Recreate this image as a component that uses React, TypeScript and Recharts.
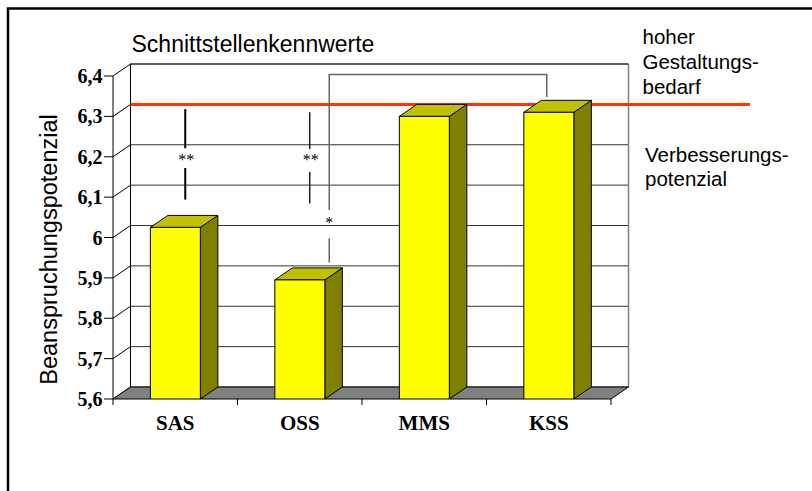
import React from 'react';
import * as RC from 'recharts';

const { BarChart, Bar, XAxis, YAxis, Customized } = RC as any;
const RA: any = RC;

// ---- data ----
const categories = ['SAS', 'OSS', 'MMS', 'KSS'];
const values = [6.025, 5.895, 6.3, 6.31];
const yTicks = [5.6, 5.7, 5.8, 5.9, 6.0, 6.1, 6.2, 6.3, 6.4];
const yDomain = [5.6, 6.4];
const thresholdValue = 6.3; // red line "hoher Gestaltungsbedarf"
const title = 'Schnittstellenkennwerte';
const yLabel = 'Beanspruchungspotenzial';
const upperNote = ['hoher', 'Gestaltungs-', 'bedarf'];
const lowerNote = ['Verbesserungs-', 'potenzial'];
// significance markers
const sigMarks = [
  { cat: 0, from: 6.318, to: 6.221, text: 6.197, from2: 6.172, to2: 6.094, label: '**', bold: true },
  { cat: 1, from: 6.31, to: 6.219, text: 6.197, from2: 6.162, to2: 6.084, label: '**', bold: false },
];
const bracket = { catA: 1, catB: 3, top: 6.404, rightEnd: 6.348, leftEnd: 6.068, text: 6.041, low1: 5.998, low2: 5.938, label: '*' };

const data = categories.map((c, i) => ({ name: c, value: values[i] }));

const W = 812;
const H = 491;
const DX = 17.5;
const DY = -12;
const SERIF = '"Liberation Serif", "Times New Roman", serif';
const SANS = '"Liberation Sans", Arial, sans-serif';

function usePlot() {
  const pa = RA.usePlotArea ? RA.usePlotArea() : undefined;
  if (pa && pa.width) return pa;
  return { x: 113, y: 76, width: 498, height: 323 };
}

function makeScales(p: any) {
  const py = (v: number) => p.y + p.height - ((v - yDomain[0]) / (yDomain[1] - yDomain[0])) * p.height;
  const step = p.width / categories.length;
  const cx = (i: number) => p.x + step * (i + 0.5);
  return { py, cx, step };
}

const Walls = () => {
  const p = usePlot();
  const { py, step } = makeScales(p);
  const L = p.x, R = p.x + p.width, T = p.y, B = p.y + p.height;
  const floor = `M${L},${B} L${R},${B} L${R + DX},${B + DY} L${L + DX},${B + DY} Z`;
  return (
    <g>
      <rect x={L + DX} y={T + DY} width={p.width} height={p.height} fill="#fff" />
      {yTicks.map((t) => (
        <g key={t}>
          <line x1={L} y1={py(t)} x2={L + DX} y2={py(t) + DY} stroke="#000" strokeWidth={1} />
          <line x1={L + DX} y1={py(t) + DY} x2={R + DX} y2={py(t) + DY} stroke="#333" strokeWidth={1} />
        </g>
      ))}
      <line x1={L + DX} y1={T + DY} x2={L + DX} y2={B + DY} stroke="#000" strokeWidth={1} />
      <line x1={R + DX} y1={T + DY} x2={R + DX} y2={B + DY} stroke="#808080" strokeWidth={1.5} />
      <line x1={L + DX} y1={T + DY} x2={R + DX} y2={T + DY} stroke="#222" strokeWidth={1.2} />
      <path d={floor} fill="#808080" stroke="#000" strokeWidth={1} />
      {categories.concat(['']).map((_, i) => (
        <line key={i} x1={L + i * step} y1={B} x2={L + i * step} y2={B + 6} stroke="#000" strokeWidth={1} />
      ))}
    </g>
  );
};

const Overlay = () => {
  const p = usePlot();
  const { py, cx } = makeScales(p);
  const L = p.x;
  const redY = py(thresholdValue) + DY;
  const bxA = cx(bracket.catA) + 29.5;
  const bxB = cx(bracket.catB) - 2;
  return (
    <g>
      <path d={`M8,${H} V8.5 H${W}`} fill="none" stroke="#000" strokeWidth={2.5} />
      <text x={131.5} y={51.5} fontFamily={SANS} fontSize={23} fill="#000">{title}</text>
      <text transform={`translate(49,${(py(6.4) + py(5.6)) / 2 + 12}) rotate(-90)`} textAnchor="middle" fontFamily={SANS} fontSize={23.5} fill="#000" dominantBaseline="central">{yLabel}</text>
      {upperNote.map((s, i) => (
        <text key={s} x={642.5} y={44 + i * 25} fontFamily={SANS} fontSize={20.5} fill="#000">{s}</text>
      ))}
      {lowerNote.map((s, i) => (
        <text key={s} x={645} y={161.5 + i * 24.5} fontFamily={SANS} fontSize={20.5} fill="#000">{s}</text>
      ))}
      <line x1={L + DX} y1={redY} x2={750} y2={redY} stroke="#ff3300" strokeWidth={3} />
      {sigMarks.map((m, i) => {
        const x = cx(m.cat) + 10;
        return (
          <g key={i}>
            <line x1={x} y1={py(m.from)} x2={x} y2={py(m.to)} stroke="#000" strokeWidth={m.bold ? 2 : 1.3} />
            <line x1={x} y1={py(m.from2)} x2={x} y2={py(m.to2)} stroke="#000" strokeWidth={m.bold ? 2 : 1.3} />
            <text x={x + 1} y={py(m.text) + 7} textAnchor="middle" fontFamily={SERIF} fontSize={16} fill="#000">{m.label}</text>
          </g>
        );
      })}
      <path d={`M${bxA},${py(bracket.leftEnd)} V${py(bracket.top)} H${bxB} V${py(bracket.rightEnd)}`} fill="none" stroke="#666" strokeWidth={1.5} />
      <line x1={bxA} y1={py(bracket.low1)} x2={bxA} y2={py(bracket.low2)} stroke="#666" strokeWidth={1.5} />
      <text x={bxA} y={py(bracket.text) + 7} textAnchor="middle" fontFamily={SERIF} fontSize={16} fill="#000">{bracket.label}</text>
    </g>
  );
};

const Bar3D = (props: any) => {
  const { x, y, width, height } = props;
  if (width == null || height == null) return null;
  const top = `M${x},${y} L${x + DX},${y + DY} L${x + width + DX},${y + DY} L${x + width},${y} Z`;
  const side = `M${x + width},${y} L${x + width + DX},${y + DY} L${x + width + DX},${y + height + DY} L${x + width},${y + height} Z`;
  return (
    <g>
      <path d={side} fill="#808000" stroke="#000" strokeWidth={1} strokeLinejoin="round" />
      <path d={top} fill="#c0c000" stroke="#000" strokeWidth={1} strokeLinejoin="round" />
      <rect x={x} y={y} width={width} height={height} fill="#ffff00" stroke="#000" strokeWidth={1} />
    </g>
  );
};

const fmt = (v: number) => String(v).replace('.', ',');

export default function App() {
  return (
    <div style={{ position: 'absolute', left: 0, top: 0, width: W, height: H, background: '#fff' }}>
      <BarChart
        width={W}
        height={H}
        data={data}
        margin={{ top: 76, right: 201, bottom: 52, left: 0 }}
        barCategoryGap="30%"
      >
        <Customized component={<Walls />} />
        <XAxis
          dataKey="name"
          height={40}
          tickLine={false}
          axisLine={false}
          tickMargin={10}
          tick={{ fontFamily: SERIF, fontWeight: 'bold', fontSize: 21, fill: '#000' }}
        />
        <YAxis
          width={113}
          domain={yDomain}
          ticks={yTicks}
          type="number"
          allowDataOverflow
          tickFormatter={fmt}
          tickSize={9}
          tickMargin={1.5}
          axisLine={{ stroke: '#000', strokeWidth: 1 }}
          tickLine={{ stroke: '#000', strokeWidth: 1 }}
          tick={{ fontFamily: SERIF, fontWeight: 'bold', fontSize: 20, fill: '#000' }}
        />
        <Bar dataKey="value" shape={<Bar3D />} isAnimationActive={false} />
        <Customized component={<Overlay />} />
      </BarChart>
    </div>
  );
}
